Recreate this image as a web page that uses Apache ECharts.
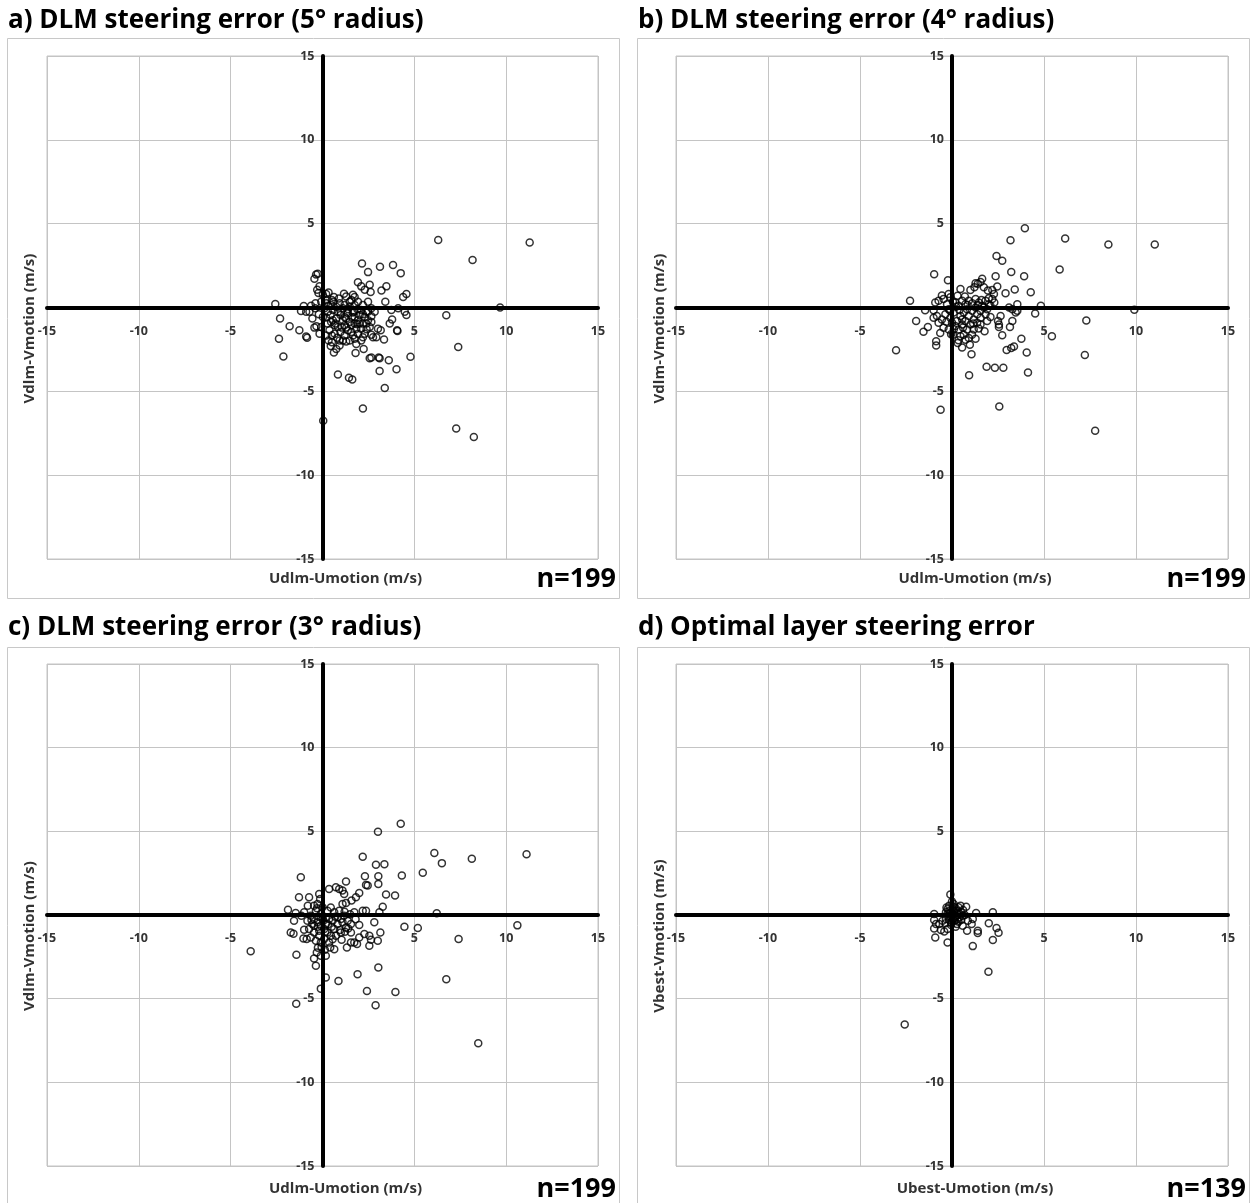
<!DOCTYPE html>
<html>
<head>
<meta charset="utf-8">
<title>Steering error scatter plots</title>
<script src="https://cdn.jsdelivr.net/npm/echarts@6/dist/echarts.min.js"></script>
<style>
  html, body { margin: 0; padding: 0; background: #ffffff; }
  #chart { width: 1250px; height: 1203px; }
</style>
</head>
<body>
<div id="chart"></div>
<script>
// ---- Panel text ----
const panelTitles = [
  'a) DLM steering error (5\u00b0 radius)',
  'b) DLM steering error (4\u00b0 radius)',
  'c) DLM steering error (3\u00b0 radius)',
  'd) Optimal layer steering error'
];
const xAxisNames = ['Udlm-Umotion (m/s)', 'Udlm-Umotion (m/s)', 'Udlm-Umotion (m/s)', 'Ubest-Umotion (m/s)'];
const yAxisNames = ['Vdlm-Vmotion (m/s)', 'Vdlm-Vmotion (m/s)', 'Vdlm-Vmotion (m/s)', 'Vbest-Vmotion (m/s)'];
const sampleCounts = ['n=199', 'n=199', 'n=199', 'n=139'];

// ---- Axis range (m/s) ----
const axisMin = -15;
const axisMax = 15;
const tickStep = 5;

// ---- Steering error points [U error, V error] in m/s ----
// a) DLM, 5 degree radius
const pointsA = [
  [6.30,4.02],[11.28,3.88],[8.17,2.83],[9.67,0.0],[6.74,-0.46],[7.39,-2.35],[7.28,-7.22],[8.24,-7.72],[2.20,-6.03],[0.04,-6.76],
  [-2.57,0.21],[-2.31,-0.66],[-1.79,-1.12],[-2.37,-1.87],[-2.13,-2.92],[-1.26,-1.36],[-0.89,-1.73],[-0.84,-1.81],[-0.44,-1.20],[-0.33,-1.12],
  [-0.35,1.97],[-0.26,2.01],[-0.44,1.71],[-0.29,1.06],[-0.16,1.26],[-0.22,0.86],[-1.02,0.09],[-1.17,-0.21],[-0.89,-0.25],[-0.71,-0.25],
  [-0.62,0.11],[-0.38,0.25],[0.20,0.80],[0.33,0.90],[0.51,0.45],[0.62,0.62],[0.89,0.54],[1.17,0.82],[1.29,0.66],[1.57,0.45],
  [1.75,0.62],[1.66,0.76],[2.15,2.62],[2.48,2.11],[3.13,2.43],[3.84,2.54],[4.26,2.05],[1.93,1.51],[2.11,1.26],[2.30,1.06],
  [2.57,1.36],[2.62,0.92],[3.21,1.02],[3.48,1.26],[3.42,0.35],[4.39,0.62],[4.57,0.80],[3.75,-0.15],[4.12,-0.05],[4.48,-0.25],
  [4.57,-0.45],[3.79,-0.72],[3.66,-0.96],[4.06,-1.36],[4.08,-1.40],[3.02,-1.26],[3.17,-1.36],[2.93,-1.77],[3.35,-1.91],[2.75,-1.77],
  [2.66,-1.63],[2.20,-1.77],[2.11,-1.97],[1.84,-2.17],[2.24,-2.47],[1.80,-2.72],[2.57,-3.02],[2.66,-2.98],[3.06,-2.98],[3.11,-3.02],
  [3.61,-3.14],[4.03,-3.69],[4.79,-2.94],[3.11,-3.79],[3.39,-4.80],[0.84,-3.99],[1.44,-4.19],[1.62,-4.29],[0.62,-2.68],[0.75,-2.47],
  [0.93,-2.27],[1.11,-1.97],[1.29,-2.03],
  [0.11,-0.05],[0.29,-0.25],[0.44,-0.45],[0.56,-0.76],[0.66,-1.06],[0.75,-0.66],[0.84,-0.25],[0.98,-0.45],[1.11,-0.76],[1.20,-1.06],
  [1.29,-0.66],[1.38,-0.35],[1.48,-0.86],[1.60,-0.56],[1.71,-0.25],[1.75,-0.96],[1.84,-1.26],[1.93,-0.76],[2.02,-0.45],[2.11,-0.15],
  [2.20,-0.96],[2.30,-0.56],[2.39,-0.25],[2.48,-0.76],[2.57,-1.16],[2.66,-0.86],[0.26,-0.96],[0.38,-1.36],[0.51,-1.67],[0.66,-1.57],
  [0.80,-1.81],[0.98,-1.46],[1.06,-1.20],[1.20,-1.67],[1.38,-1.36],[1.57,-1.46],[1.75,-1.87],[1.93,-1.57],[0.02,-0.56],[-0.07,-1.16],
  [-0.16,-1.57],[0.20,-1.67],[0.33,-1.97],[0.51,-2.07],[0.93,-1.97],[1.48,-1.97],[1.66,-1.67],[2.11,-1.26],[2.30,-1.57],[2.48,-0.25],
  [2.66,-0.05],[1.75,0.15],[1.93,0.35],[2.20,0.15],[2.48,0.35],[1.48,0.05],[1.11,-0.05],[0.75,0.05],[0.47,0.15],[0.20,0.25],
  [-0.07,0.35],[0.02,0.76],[0.20,0.45],[0.56,-0.15],[0.93,0.25],[1.20,0.15],[1.48,0.35],[0.47,-0.86],[0.84,-1.16],[1.20,-0.56],
  [1.57,-1.06],[1.75,-0.56],[2.02,-0.96],[2.39,-0.96],[2.66,-0.52],[2.84,-0.25],
  [0.30,0.10],[0.60,0.35],[1.00,-0.30],[1.40,-0.10],[1.65,-0.30],[1.90,-0.10],[2.20,-0.40],[0.20,-0.60],[0.70,-0.95],[1.30,-1.20],
  [1.90,-1.00],[2.40,-1.30],[-0.20,-0.40],[-0.40,-0.05],[-0.55,-0.65],[0.45,-2.30]
];

// b) DLM, 4 degree radius
const pointsB = [
  [3.96,4.72],[6.15,4.11],[8.50,3.76],[11.02,3.76],[5.85,2.26],[9.91,-0.14],[7.30,-0.78],[5.43,-1.71],[7.22,-2.83],[7.78,-7.35],
  [2.57,-5.90],[-0.62,-6.10],
  [3.18,4.01],[2.42,3.07],[2.73,2.79],[3.22,2.12],[3.92,1.86],[-0.97,1.98],[-0.22,1.62],[-2.28,0.40],[-3.04,-2.55],[2.37,1.86],
  [1.64,1.72],[1.55,1.52],[1.40,1.41],[1.28,1.45],[1.73,1.21],[0.46,1.11],[1.00,1.05],[1.22,1.21],[1.95,1.01],[2.28,0.81],
  [2.19,1.05],[2.46,1.25],[2.91,0.85],[3.41,1.07],[4.28,0.91],[3.55,0.20],[4.83,0.10],[4.52,-0.36],[3.46,-0.30],[3.55,-0.20],
  [3.10,0.0],[3.28,-0.10],[2.64,-0.51],[2.50,-0.81],[2.55,-1.17],[2.73,-1.66],[2.55,-1.01],[3.28,-0.81],[3.15,-1.17],[3.77,-1.86],
  [2.97,-2.53],[3.22,-2.42],[3.37,-2.32],[4.06,-2.69],[1.88,-3.54],[2.33,-3.60],[2.79,-3.60],[4.13,-3.88],[0.93,-4.04],[1.06,-2.79],
  [2.09,-0.57],[1.91,-0.81],[1.55,-1.01],[1.77,-1.41],[1.28,-1.86],[0.91,-1.82],[0.55,-2.38],[0.97,-2.22],[0.31,-2.12],[0.05,-1.62],
  [-0.18,-1.31],[-0.86,-2.02],[-0.86,-2.26],[-1.55,-1.45],[-1.31,-1.17],[-1.95,-0.81],[-0.64,-1.52],[-0.46,-1.21],[-0.73,-0.91],[-1.46,-0.16],
  [-1.00,-0.16],[-0.91,0.30],[-0.73,0.40],[-0.55,0.71],[-0.46,0.51],[-0.18,0.81],[-0.09,0.61],[-1.00,-0.61],[-0.82,-0.51],[-0.55,-0.71],
  [-0.36,-0.40],
  [0.18,0.30],[0.36,0.10],[0.55,0.40],[0.73,0.20],[0.82,-0.10],[0.64,-0.30],[0.46,-0.51],[0.27,-0.81],[0.18,-1.11],[0.36,-1.31],
  [0.55,-1.01],[0.73,-0.81],[0.91,-0.51],[1.09,-0.20],[1.28,0.0],[1.46,0.30],[1.64,0.10],[1.82,0.40],[2.00,0.20],[2.19,0.51],
  [1.18,-0.71],[1.37,-0.40],[1.55,-0.20],[1.73,0.0],[1.00,-1.01],[0.82,-1.31],[0.64,-1.62],[0.46,-1.72],[1.18,-1.31],[1.37,-0.91],
  [1.55,-0.61],[1.82,-0.40],[0.09,-0.30],[-0.09,-0.61],[0.0,-0.91],[-0.18,-0.10],[0.91,0.40],[1.28,0.51],[1.91,-0.10],[2.09,0.10],
  [0.55,-0.71],[1.09,-1.62],[0.73,-1.92],
  [-0.27,0.20],[0.05,0.35],[0.22,0.05],[-0.10,-0.20],[0.40,-0.15],[0.10,-1.30],[-0.30,-0.85],[0.60,-1.20],[0.85,0.15],[1.10,0.25],
  [1.40,0.15],[1.60,0.45],[2.00,0.55],[2.30,0.30],[0.70,0.65],[0.30,0.70],[-0.05,-1.60],[0.35,-1.95],[1.15,-0.95],[1.45,-1.25]
];

// c) DLM, 3 degree radius
const pointsC = [
  [4.26,5.45],[3.02,4.97],[6.09,3.70],[11.11,3.63],[8.13,3.36],[6.50,3.10],[6.22,0.11],[10.61,-0.62],[7.41,-1.43],[6.74,-3.84],
  [8.48,-7.66],[2.89,-5.40],[-1.43,-5.31],[-3.91,-2.16],
  [2.19,3.48],[2.91,3.00],[3.37,3.04],[4.32,2.36],[5.46,2.52],[-1.18,2.26],[1.28,2.00],[2.31,2.32],[3.04,2.32],[3.04,1.86],
  [2.37,1.80],[2.46,1.76],[3.46,1.22],[3.95,1.16],[2.00,1.32],[1.82,1.06],[1.58,0.86],[1.28,0.72],[1.09,0.66],[0.36,1.56],
  [0.73,1.66],[0.91,1.56],[1.09,1.46],[1.18,1.26],[-1.28,1.06],[-0.73,1.06],[-0.18,1.26],[-0.13,0.96],[-1.88,0.32],[-1.46,0.12],
  [-1.00,0.16],[-0.46,0.56],[3.28,0.50],[3.10,0.16],[2.37,0.26],[2.19,0.26],[1.73,0.16],[2.82,-0.44],[3.15,-1.04],[4.46,-0.70],
  [5.19,-0.78],[2.55,-1.24],[2.64,-1.48],[3.01,-1.54],[2.55,-1.84],[2.28,-1.14],[2.00,-1.34],[1.73,-1.64],[1.88,-1.74],[1.55,-1.64],
  [1.33,-1.94],[3.04,-3.14],[1.91,-3.54],[2.42,-4.54],[3.97,-4.60],[0.87,-3.94],[0.18,-3.74],[-0.09,-4.40],[-1.42,-2.38],[-0.36,-3.04],
  [-0.46,-2.60],[-0.31,-2.24],[-0.09,-2.44],[0.18,-2.44],[-1.73,-1.04],[-1.58,-1.12],[-1.55,-0.34],[-1.00,-0.88],[-1.04,-1.40],[-0.86,-1.44],
  [0.42,-1.94],[0.64,-2.04],[0.13,-2.08],[1.04,-1.48],[1.22,-1.00],[1.40,-0.80],[1.55,-1.04],
  [-0.64,-0.04],[-0.46,-0.24],[-0.27,-0.44],[-0.09,-0.64],[0.09,-0.84],[0.27,-1.04],[0.46,-1.24],[0.64,-0.84],[0.82,-0.54],[1.00,-0.24],
  [1.18,-0.04],[1.37,-0.34],[1.55,-0.54],[0.36,-0.24],[0.18,-0.14],[-0.09,0.06],[-0.36,0.26],[-0.55,-0.54],[-0.73,-0.84],[-0.46,-1.04],
  [-0.18,-1.24],[0.09,-1.44],[0.36,-1.64],[-0.36,-1.54],[-0.64,-1.34],[0.64,0.16],[0.91,0.26],[0.27,0.26],[0.0,0.46],[-0.27,0.66],
  [0.73,-1.24],[1.00,-1.04],[1.28,-0.74],[-0.09,-1.64],[-0.18,-0.94],[0.18,-0.54],[0.55,-0.34],[0.82,-0.14],[1.09,-0.44],[-0.46,-0.64],
  [-0.82,-0.34],[0.0,-0.24],
  [-0.20,-0.10],[0.05,-0.35],[0.30,-0.55],[0.50,-0.70],[0.15,-1.00],[-0.25,-0.70],[-0.60,-0.30],[-0.30,0.40],[0.45,0.45],[0.70,-0.10],
  [1.20,0.20],[1.50,0.05],[1.80,-0.25],[2.00,-0.60],[0.95,-0.90],[-0.05,-1.90],[-0.25,-1.95],[0.55,-1.45],[-0.80,0.55],[-1.15,-0.05]
];

// d) Optimal steering layer
const pointsD = [
  [-2.57,-6.54],[1.98,-3.39],
  [-0.09,1.22],[0.46,0.56],[0.77,0.50],[1.31,0.12],[2.22,0.16],[-0.97,0.06],[-0.97,-0.30],[-0.87,-0.54],
  [-0.97,-0.80],[-0.60,-0.90],[-0.42,-0.98],[-0.24,-0.84],[-0.69,-0.54],[-0.51,-0.34],[-0.33,-0.24],[-0.91,-1.34],[-0.24,-1.64],[1.13,-1.86],
  [0.82,-0.94],[0.58,-0.64],[0.86,-0.34],[1.13,-0.24],[1.07,-0.54],[1.40,-0.94],[1.40,-1.08],[2.00,-0.50],[2.22,-1.50],[2.42,-0.78],
  [2.53,-1.06],
  [-0.15,0.26],[0.04,0.36],[0.13,0.16],[0.22,-0.04],[-0.05,-0.14],[-0.24,0.06],[0.31,0.26],[0.40,-0.14],[0.13,-0.34],[-0.05,-0.44],
  [0.27,-0.54],[-0.15,0.56],[0.09,0.66],[0.35,0.46],[0.49,0.16],[0.58,-0.04],[-0.24,0.36],[-0.33,0.16],[0.04,0.06],[0.16,-0.18],
  [0.05,-0.25],[-0.10,0.10],[0.20,0.40],[0.25,0.10],[-0.15,-0.30],[0.30,-0.25],[0.10,0.50],[-0.30,0.45],[0.45,0.05],[0.60,0.30],
  [0.00,0.80],[-0.05,-0.60],[0.35,-0.40],[0.50,-0.30],[0.20,-0.70],[-0.35,-0.50],[0.70,0.00],[0.10,0.25],[-0.20,-0.05],[0.15,-0.05]
];

const panelPoints = [pointsA, pointsB, pointsC, pointsD];

// ---- Layout ----
const plotBoxes = [
  { left: 47,  top: 56,  width: 551, height: 503 },
  { left: 676, top: 56,  width: 552, height: 503 },
  { left: 47,  top: 664, width: 551, height: 502 },
  { left: 676, top: 664, width: 552, height: 502 }
];
const frames = [
  { x: 7,   y: 38,  w: 612, h: 560 },
  { x: 637, y: 38,  w: 612, h: 560 },
  { x: 7,   y: 647, w: 612, h: 580 },
  { x: 637, y: 647, w: 612, h: 580 }
];

const FONT = '"Open Sans", "DejaVu Sans", sans-serif';
const gridGrey = '#c4c4c4';
const labelGrey = '#333333';

const hideZero = v => (v === 0 ? '' : String(v));

const grid = [], xAxis = [], yAxis = [], series = [], graphic = [];

plotBoxes.forEach((b, i) => {
  grid.push({ left: b.left, top: b.top, width: b.width, height: b.height,
              show: true, borderColor: gridGrey, borderWidth: 1, backgroundColor: 'transparent' });
  // axes cross at the origin: the range is symmetric, so shift each axis half-way into the plot
  const common = {
    type: 'value', gridIndex: i, min: axisMin, max: axisMax, interval: tickStep,
    axisLine: { show: true, onZero: false, lineStyle: { color: '#000', width: 4 } },
    axisTick: { show: false },
    splitLine: { show: true, lineStyle: { color: gridGrey, width: 1 } },
    z: 3
  };
  const labelStyle = { formatter: hideZero, showMinLabel: true, showMaxLabel: true,
                       color: labelGrey, fontFamily: FONT, fontWeight: 'bold', fontSize: 12.5 };
  xAxis.push(Object.assign({}, common, {
    position: 'bottom', offset: -b.height / 2,
    axisLabel: Object.assign({ margin: 17 }, labelStyle)
  }));
  yAxis.push(Object.assign({}, common, {
    position: 'left', offset: -b.width / 2,
    axisLabel: Object.assign({ margin: 8 }, labelStyle)
  }));
  series.push({
    type: 'scatter',
    xAxisIndex: i,
    yAxisIndex: i,
    data: panelPoints[i],
    symbol: 'circle',
    symbolSize: 7,
    silent: true,
    z: 5,
    itemStyle: { color: 'rgba(255,255,255,0)', borderColor: '#000', borderWidth: 1.5 }
  });

  const f = frames[i];
  graphic.push({
    type: 'rect', z: -1, silent: true,
    shape: { x: f.x + 0.5, y: f.y + 0.5, width: f.w, height: f.h },
    style: { fill: '#fff', stroke: '#c8c8c8', lineWidth: 1 }
  });
  const titleY = i < 2 ? 21 : 628;
  graphic.push({
    type: 'text', silent: true,
    style: { text: panelTitles[i], x: f.x + 1, y: titleY, align: 'left', verticalAlign: 'middle',
             font: 'bold 26px ' + FONT, fill: '#000' }
  });
  const cx = b.left + b.width / 2;
  const bottomY = i < 2 ? 579 : 1189;
  graphic.push({
    type: 'text', silent: true,
    style: { text: xAxisNames[i], x: cx + 23, y: bottomY, align: 'center', verticalAlign: 'middle',
             font: 'bold 15px ' + FONT, fill: labelGrey }
  });
  graphic.push({
    type: 'text', silent: true,
    style: { text: sampleCounts[i], x: f.x + f.w - 3, y: bottomY, align: 'right', verticalAlign: 'middle',
             font: 'bold 27px ' + FONT, fill: '#000' }
  });
  graphic.push({
    type: 'text', silent: true,
    x: f.x + 23, y: b.top + b.height / 2 + 21, rotation: Math.PI / 2,
    style: { text: yAxisNames[i], x: 0, y: 0, align: 'center', verticalAlign: 'middle',
             font: 'bold 15px ' + FONT, fill: labelGrey }
  });
});

const chart = echarts.init(document.getElementById('chart'), null, { renderer: 'canvas' });
chart.setOption({
  animation: false,
  backgroundColor: '#ffffff',
  grid, xAxis, yAxis, series, graphic
});
</script>
</body>
</html>
